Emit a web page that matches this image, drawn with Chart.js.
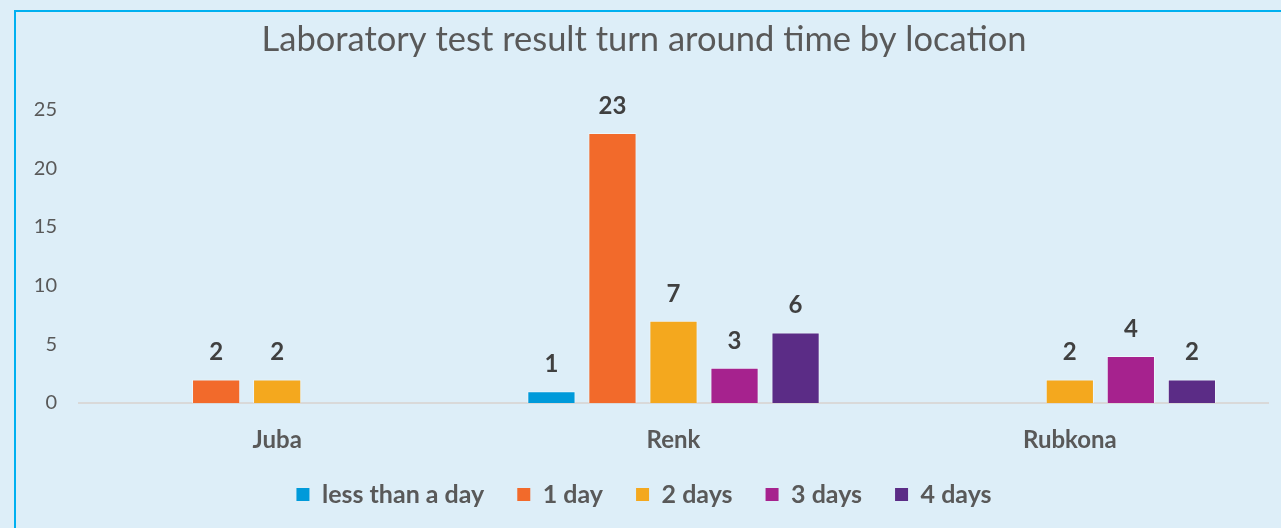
<!DOCTYPE html>
<html>
<head>
<meta charset="utf-8">
<script src="https://cdn.jsdelivr.net/npm/chart.js@4/dist/chart.umd.min.js"></script>
<style>
  html, body { margin: 0; padding: 0; background: #DDEEF8; overflow: hidden; }
  #frame { position: absolute; left: 14px; top: 10px; width: 1400px; height: 700px;
           border-top: 2px solid #00B0F0; border-left: 2px solid #00B0F0; }
  #wrap { position: absolute; left: 0; top: 0; width: 1281px; height: 528px; }
</style>
</head>
<body>
<div id="frame"></div>
<div id="wrap"><canvas id="c" width="1281" height="528"></canvas></div>
<script>
const titleText = 'Laboratory test result turn around time by location';
const categories = ['Juba', 'Renk', 'Rubkona'];
const seriesNames = ['less than a day', '1 day', '2 days', '3 days', '4 days'];
const lessThanADay = [null, 1, null];
const oneDay = [2, 23, null];
const twoDays = [2, 7, 2];
const threeDays = [null, 3, 4];
const fourDays = [null, 6, 2];
const yTicks = [0, 5, 10, 15, 20, 25];
const colors = ['#009ADA', '#F26A2B', '#F4A81E', '#A6228E', '#5B2C86'];

const seriesValues = [lessThanADay, oneDay, twoDays, threeDays, fourDays];

const dataLabels = {
  id: 'dataLabels',
  afterDatasetsDraw(chart) {
    const ctx = chart.ctx;
    ctx.save();
    ctx.font = 'bold 24px Lato';
    ctx.fillStyle = '#404040';
    ctx.textAlign = 'center';
    ctx.textBaseline = 'middle';
    chart.data.datasets.forEach((ds, i) => {
      const meta = chart.getDatasetMeta(i);
      meta.data.forEach((el, j) => {
        const v = ds.data[j];
        if (v === null || v === undefined) return;
        ctx.fillText(String(v), el.x, el.y - 27);
      });
    });
    ctx.restore();
  }
};

new Chart(document.getElementById('c'), {
  type: 'bar',
  data: {
    labels: categories,
    datasets: seriesNames.map((name, i) => ({
      label: name,
      data: seriesValues[i],
      backgroundColor: colors[i],
      borderColor: 'rgba(255,255,255,0.45)',
      borderWidth: 1,
      categoryPercentage: 0.77,
      barPercentage: 0.79
    }))
  },
  options: {
    responsive: false,
    animation: false,
    devicePixelRatio: 1,
    layout: { padding: { left: 20, right: 13, top: 0, bottom: 11 } },
    plugins: {
      title: {
        display: true,
        text: titleText,
        color: '#595959',
        font: { family: 'Lato', size: 34.5, weight: 'normal' },
        padding: { top: 19, bottom: 49 }
      },
      legend: {
        position: 'bottom',
        labels: {
          color: '#595959',
          font: { family: 'Lato', size: 25, weight: 'bold' },
          boxWidth: 13,
          boxHeight: 13,
          padding: 33,
          generateLabels(chart) {
            return chart.data.datasets.map((ds, i) => ({
              text: ds.label,
              fillStyle: ds.backgroundColor,
              strokeStyle: ds.backgroundColor,
              lineWidth: 0,
              fontColor: '#595959',
              datasetIndex: i,
              hidden: false
            }));
          }
        }
      },
      tooltip: { enabled: false }
    },
    scales: {
      x: {
        grid: { display: false, drawTicks: false },
        border: { display: true, color: '#D9D9D9', width: 2 },
        afterFit(s) { s.height = 46; },
        ticks: {
          color: '#595959',
          font: { family: 'Lato', size: 24, weight: 'bold' },
          padding: 23
        }
      },
      y: {
        min: 0,
        max: 25,
        grid: { display: false, drawTicks: false },
        border: { display: false },
        afterFit(s) { s.width = 59; },
        afterBuildTicks(s) { s.ticks = yTicks.map(v => ({ value: v })); },
        ticks: {
          color: '#595959',
          font: { family: 'Lato', size: 20 },
          padding: 22
        }
      }
    }
  },
  plugins: [dataLabels]
});
</script>
</body>
</html>
